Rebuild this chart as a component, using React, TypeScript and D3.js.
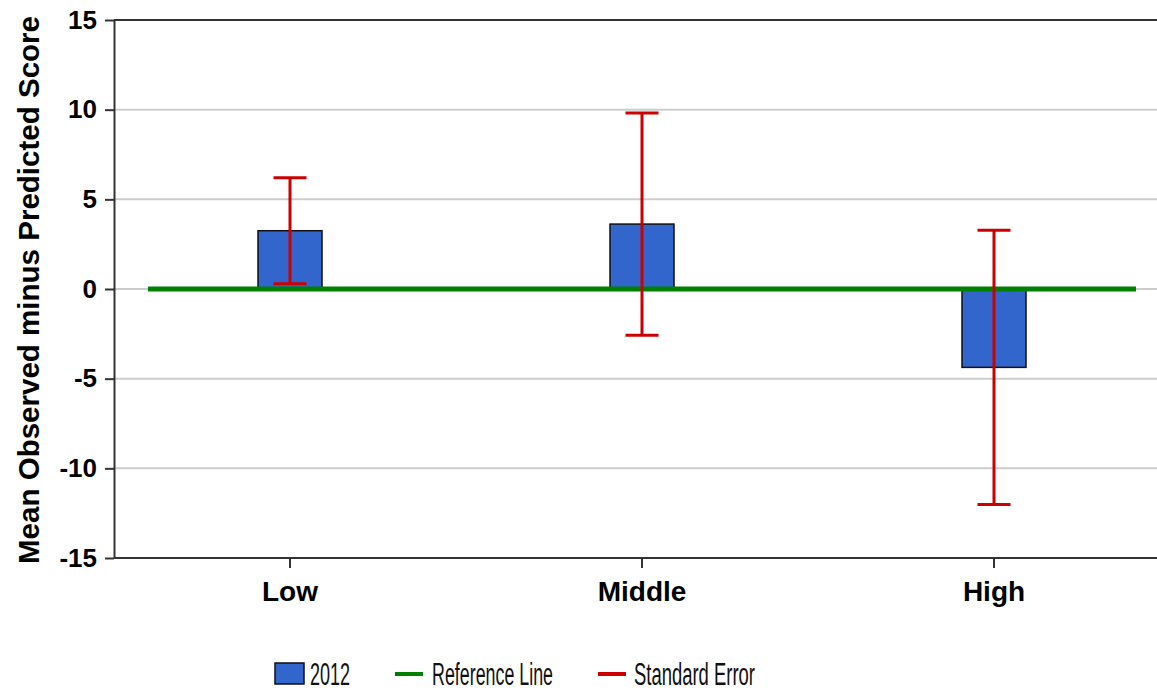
import * as d3 from 'd3'
import {useEffect, useRef} from 'react'

const categories = ['Low', 'Middle', 'High']
const means = [3.25, 3.62, -4.37]
const stdErrors = [2.96, 6.2, 7.65]
const yTicks = [-15, -10, -5, 0, 5, 10, 15]
const referenceValue = 0
const legendLabels = ['2012', 'Reference Line', 'Standard Error']

const FONT = '"Liberation Sans", Arial, sans-serif'
const BAR_COLOR = '#3366cc'
const REF_COLOR = '#008000'
const ERR_COLOR = '#cc0000'

export default function App() {
  const ref = useRef<SVGSVGElement>(null)

  useEffect(() => {
    const width = 1157
    const height = 691
    const margin = {top: 20, right: -13, bottom: 133, left: 114}
    const svg = d3.select(ref.current)
    svg.selectAll('*').remove()

    const x = d3
      .scaleBand<string>()
      .domain(categories)
      .range([margin.left, width - margin.right])
      .padding(0)
    const y = d3
      .scaleLinear()
      .domain([-15, 15])
      .range([height - margin.bottom, margin.top])

    const data = categories.map((c, i) => ({label: c, mean: means[i], se: stdErrors[i]}))
    const cx = (d: {label: string}) => (x(d.label) || 0) + x.bandwidth() / 2
    const barWidth = 64
    const capWidth = 33

    // grid
    svg
      .append('g')
      .selectAll('line')
      .data(yTicks.filter(t => t !== 15 && t !== -15))
      .enter()
      .append('line')
      .attr('x1', margin.left)
      .attr('x2', width)
      .attr('y1', d => y(d))
      .attr('y2', d => y(d))
      .attr('stroke', '#cccccc')
      .attr('stroke-width', 2)

    // frame: top line and bottom line
    for (const v of [15, -15]) {
      svg
        .append('line')
        .attr('x1', margin.left)
        .attr('x2', width)
        .attr('y1', y(v))
        .attr('y2', y(v))
        .attr('stroke', '#333')
        .attr('stroke-width', 2)
    }

    // y axis
    const yAxis = d3
      .axisLeft(y)
      .tickValues(yTicks)
      .tickFormat(d => String(d))
      .tickSize(9)
      .tickSizeOuter(0)
      .tickPadding(8)
    const gy = svg.append('g').attr('transform', 'translate(' + margin.left + ',0)').call(yAxis)
    gy.select('.domain').attr('stroke', '#333').attr('stroke-width', 2)
    gy.selectAll('.tick line').attr('stroke', '#333').attr('stroke-width', 2)
    gy.selectAll('.tick text')
      .attr('fill', '#000')
      .style('font-family', FONT)
      .style('font-size', '26px')
      .style('font-weight', 'bold')

    // x axis
    const xAxis = d3.axisBottom(x).tickSize(10).tickSizeOuter(0).tickPadding(6)
    const gx = svg
      .append('g')
      .attr('transform', 'translate(0,' + y(-15) + ')')
      .call(xAxis)
    gx.select('.domain').remove()
    gx.selectAll('.tick line').attr('stroke', '#333').attr('stroke-width', 2)
    gx.selectAll('.tick text')
      .attr('fill', '#000')
      .attr('dy', '0.95em')
      .style('font-family', FONT)
      .style('font-size', '28px')
      .style('font-weight', 'bold')

    // y title
    svg
      .append('text')
      .attr('transform', 'rotate(-90)')
      .attr('x', -290)
      .attr('y', 39)
      .attr('text-anchor', 'middle')
      .attr('textLength', 548)
      .attr('lengthAdjust', 'spacingAndGlyphs')
      .style('font-family', FONT)
      .style('font-size', '29px')
      .style('font-weight', 'bold')
      .text('Mean Observed minus Predicted Score')

    // bars
    svg
      .selectAll('.bar')
      .data(data)
      .enter()
      .append('rect')
      .attr('class', 'bar')
      .attr('x', d => cx(d) - barWidth / 2)
      .attr('width', barWidth)
      .attr('y', d => y(Math.max(0, d.mean)))
      .attr('height', d => Math.abs(y(d.mean) - y(0)))
      .attr('fill', BAR_COLOR)
      .attr('stroke', '#111')
      .attr('stroke-width', 1.5)

    // reference line
    const [r0, r1] = x.range()
    svg
      .append('line')
      .attr('x1', r0 + 34)
      .attr('x2', r1 - 34)
      .attr('y1', y(referenceValue))
      .attr('y2', y(referenceValue))
      .attr('stroke', REF_COLOR)
      .attr('stroke-width', 5)

    // error bars
    const eg = svg.selectAll('.err').data(data).enter().append('g').attr('class', 'err')
    eg.append('line')
      .attr('x1', d => cx(d))
      .attr('x2', d => cx(d))
      .attr('y1', d => y(d.mean + d.se))
      .attr('y2', d => y(d.mean - d.se))
      .attr('stroke', ERR_COLOR)
      .attr('stroke-width', 3)
    for (const sign of [1, -1]) {
      eg.append('line')
        .attr('x1', d => cx(d) - capWidth / 2)
        .attr('x2', d => cx(d) + capWidth / 2)
        .attr('y1', d => y(d.mean + sign * d.se))
        .attr('y2', d => y(d.mean + sign * d.se))
        .attr('stroke', ERR_COLOR)
        .attr('stroke-width', 3)
    }

    // legend
    const legendY = 674
    const lg = svg.append('g')
    lg.append('rect')
      .attr('x', 275)
      .attr('y', legendY - 11)
      .attr('width', 29)
      .attr('height', 21)
      .attr('fill', BAR_COLOR)
      .attr('stroke', '#111')
      .attr('stroke-width', 1.5)
    lg.append('line')
      .attr('x1', 395)
      .attr('x2', 423)
      .attr('y1', legendY)
      .attr('y2', legendY)
      .attr('stroke', REF_COLOR)
      .attr('stroke-width', 4)
    lg.append('line')
      .attr('x1', 598)
      .attr('x2', 626)
      .attr('y1', legendY)
      .attr('y2', legendY)
      .attr('stroke', ERR_COLOR)
      .attr('stroke-width', 4)
    const textPos = [
      {x: 310, len: 40},
      {x: 432, len: 121},
      {x: 634, len: 121},
    ]
    lg.selectAll('.ltext')
      .data(legendLabels)
      .enter()
      .append('text')
      .attr('x', (_, i) => textPos[i].x)
      .attr('y', legendY + 11)
      .attr('textLength', (_, i) => textPos[i].len)
      .attr('lengthAdjust', 'spacingAndGlyphs')
      .style('font-family', FONT)
      .style('font-size', '31px')
      .attr('fill', '#111')
      .text(d => d)
  }, [])

  return (
    <svg
      ref={ref}
      width={1157}
      height={691}
      style={{position: 'absolute', left: 0, top: 0, background: '#fff'}}
    />
  )
}
